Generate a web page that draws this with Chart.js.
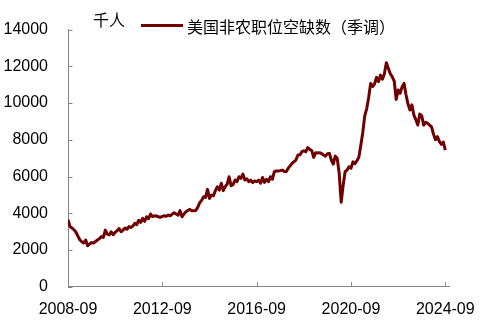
<!DOCTYPE html>
<html><head><meta charset="utf-8">
<script src="https://cdn.jsdelivr.net/npm/chart.js@4/dist/chart.umd.min.js"></script>
<style>html,body{margin:0;padding:0;background:#fff;}canvas{display:block;}</style>
</head><body>
<canvas id="c" width="488" height="320"></canvas>
<script>
// ---- data ----
const unitLabel = '千人';
const seriesName = '美国非农职位空缺数（季调）';
const tickLabels = ['2008-09', '2012-09', '2016-09', '2020-09', '2024-09'];
const yTicks = [0, 2000, 4000, 6000, 8000, 10000, 12000, 14000];
// monthly job openings, thousands, 2008-09 .. 2024-09
const values2008 = [3650, 3280, 3200, 3100];
const values2009 = [2980, 2760, 2560, 2450, 2380, 2540, 2230, 2330, 2400, 2380, 2460, 2540];
const values2010 = [2620, 2730, 2680, 3080, 2860, 2820, 2990, 2830, 2960, 3050, 3170, 2990];
const values2011 = [3080, 3190, 3130, 3270, 3230, 3300, 3450, 3380, 3620, 3500, 3720, 3560];
const values2012 = [3810, 3700, 3960, 3820, 3860, 3850, 3810, 3780, 3830, 3860, 3830, 3900];
const values2013 = [3860, 3950, 4030, 3960, 3900, 4140, 3810, 3950, 4080, 4150, 4210, 4140];
const values2014 = [4130, 4150, 4320, 4570, 4700, 4900, 4860, 5300, 4810, 4990, 4950, 5230];
const values2015 = [5440, 5260, 5630, 5230, 5450, 5590, 5990, 5500, 5560, 5810, 5720, 5990];
const values2016 = [5900, 6130, 5810, 5880, 5720, 5800, 5670, 5760, 5720, 5800, 5630, 5950];
const values2017 = [5680, 5850, 5720, 5990, 5850, 6260, 6300, 6300, 6320, 6350, 6280, 6260];
const values2018 = [6440, 6580, 6720, 6800, 6900, 7170, 7180, 7350, 7400, 7350, 7570, 7480];
const values2019 = [7420, 7040, 7300, 7280, 7300, 7250, 7170, 7110, 7240, 7260, 6900, 6680];
const values2020 = [7110, 6990, 6170, 4600, 5500, 6260, 6350, 6530, 6450, 6800, 6700, 6850];
const values2021 = [7050, 7700, 8400, 9300, 9700, 10300, 11070, 10900, 11050, 11400, 11160, 11520];
const values2022 = [11300, 11600, 12190, 11900, 11600, 11430, 11200, 10200, 10710, 10530, 10890, 11070];
const values2023 = [10450, 9950, 9620, 9900, 9350, 9100, 8800, 9400, 9300, 8800, 8950, 8900];
const values2024 = [8800, 8700, 8300, 8000, 8170, 7900, 7750, 7880, 7440];

const values = [].concat(values2008, values2009, values2010, values2011, values2012,
  values2013, values2014, values2015, values2016, values2017, values2018, values2019,
  values2020, values2021, values2022, values2023, values2024);

// month labels for each value
const categories = values.map((v, i) => {
  const m = 8 + i; // 0-based month index from Jan 2008
  const yr = 2008 + Math.floor(m / 12);
  const mo = (m % 12) + 1;
  return yr + '-' + String(mo).padStart(2, '0');
});

const lineColor = '#700000';
const axisColor = '#868686';
const numFont = { family: '"Liberation Sans", Arial, sans-serif', size: 16 };

const innerTicks = {
  id: 'innerTicks',
  afterDraw(chart) {
    const ctx = chart.ctx;
    const xs = chart.scales.x, ys = chart.scales.y;
    const ca = chart.chartArea;
    ctx.save();
    ctx.strokeStyle = axisColor;
    ctx.lineWidth = 1;
    ctx.beginPath();
    ys.ticks.forEach(t => {
      const py = Math.round(ys.getPixelForValue(t.value)) + 0.5;
      ctx.moveTo(ca.left, py); ctx.lineTo(ca.left + 4.5, py);
    });
    xs.ticks.forEach(t => {
      const px = Math.round(xs.getPixelForValue(t.value)) + 0.5;
      ctx.moveTo(px, ca.bottom); ctx.lineTo(px, ca.bottom - 4.5);
    });
    ctx.stroke();
    ctx.restore();
  }
};

const header = {
  id: 'header',
  afterDraw(chart) {
    const ctx = chart.ctx;
    ctx.save();
    ctx.fillStyle = '#000';
    ctx.font = '16px "Noto Sans CJK SC", sans-serif';
    ctx.textBaseline = 'middle';
    ctx.textAlign = 'left';
    ctx.fillText(unitLabel, 93, 19.5);
    const ds = chart.data.datasets[0];
    ctx.strokeStyle = ds.borderColor;
    ctx.lineWidth = 3;
    ctx.beginPath();
    ctx.moveTo(141, 25.5); ctx.lineTo(183, 25.5);
    ctx.stroke();
    ctx.fillText(ds.label, 187, 26.5);
    ctx.restore();
  }
};

new Chart(document.getElementById('c'), {
  type: 'line',
  data: {
    datasets: [{
      label: seriesName,
      data: values.map((v, i) => ({ x: i, y: v })),
      borderColor: lineColor,
      backgroundColor: lineColor,
      borderWidth: 3,
      pointRadius: 0,
      tension: 0,
      fill: false,
      borderJoinStyle: 'round'
    }]
  },
  options: {
    responsive: false,
    animation: false,
    devicePixelRatio: 1,
    layout: { padding: { top: 29.5, right: 32, left: 0, bottom: 0 } },
    plugins: { legend: { display: false }, tooltip: { enabled: false } },
    scales: {
      y: {
        min: 0, max: 14000,
        afterBuildTicks: s => { s.ticks = yTicks.map(v => ({ value: v })); },
        ticks: { font: numFont, color: '#000', padding: 20, callback: v => String(v) },
        grid: { drawOnChartArea: false, drawTicks: false, color: 'rgba(0,0,0,0)' },
        border: { color: axisColor, width: 1 },
        afterFit: s => { s.width = 68; }
      },
      x: {
        type: 'linear',
        min: 0, max: 194,
        afterBuildTicks: s => { s.ticks = tickLabels.map(l => ({ value: categories.indexOf(l) })); },
        ticks: { font: numFont, color: '#000', padding: 13, maxRotation: 0,
                 callback: v => categories[v] },
        grid: { drawOnChartArea: false, drawTicks: false, color: 'rgba(0,0,0,0)' },
        border: { color: axisColor, width: 1 },
        afterFit: s => { s.height = 33.3; }
      }
    }
  },
  plugins: [innerTicks, header]
});
</script>
</body></html>
